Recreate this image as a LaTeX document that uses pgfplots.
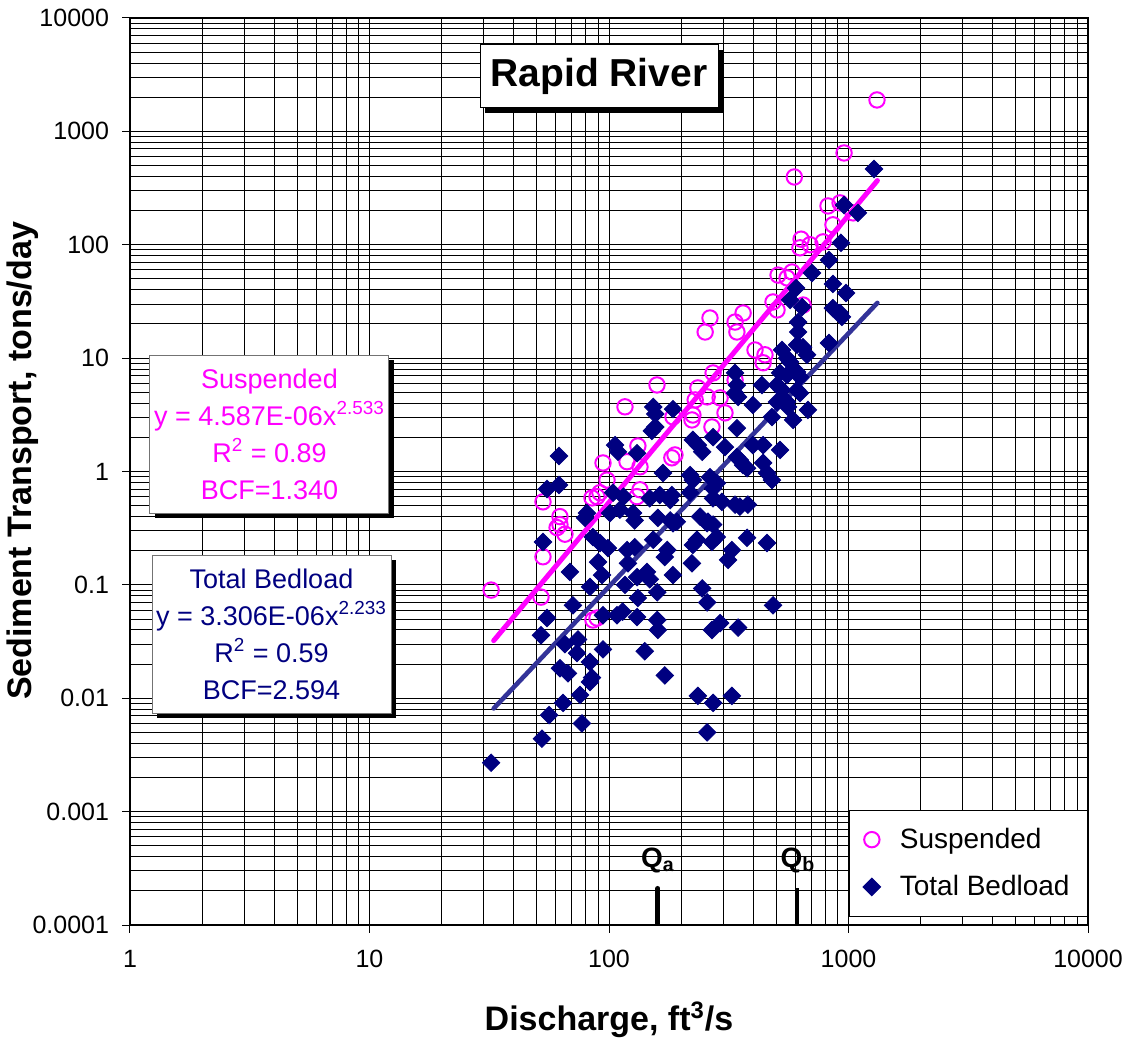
\documentclass[border=0pt]{standalone}
\usepackage{fontspec}
\setmainfont{Liberation Sans}
\usepackage{pgfplots}
\pgfplotsset{compat=1.18}
\usetikzlibrary{shadows}
\definecolor{susp}{RGB}{255,0,255}
\definecolor{bed}{RGB}{0,0,128}
\definecolor{bedline}{RGB}{51,51,153}
\begin{document}
\begin{tikzpicture}
\begin{axis}[
  scale only axis, width=479bp, height=453.5bp,
  xmode=log, ymode=log,
  xmin=1, xmax=10000, ymin=1e-4, ymax=1e4,
  xtick={1,10,100,1000,10000},
  xticklabels={1,10,100,1000,10000},
  ytick={1e-4,1e-3,1e-2,1e-1,1,10,100,1000,10000},
  yticklabels={0.0001,0.001,0.01,0.1,1,10,100,1000,10000},
  grid=both,
  major grid style={black, line width=0.5bp},
  minor grid style={black, line width=0.5bp},
  axis line style={black, line width=0.6bp},
  tick align=outside, tick pos=left,
  major tick length=4bp, minor tick length=0pt,
  tick style={black, line width=0.5bp},
  ticklabel style={font=\fontsize{12.5bp}{15bp}\selectfont},
  xticklabel style={yshift=-5bp},
  yticklabel style={xshift=-3bp},
  xlabel={\textbf{Discharge, ft\textsuperscript{3}/s}},
  ylabel={\textbf{Sediment Transport, tons/day}},
  label style={font=\fontsize{17bp}{20bp}\selectfont},
  x label style={at={(axis description cs:0.5,-0.1047)}, anchor=center},
  y label style={at={(axis description cs:-0.1117,0.5116)}, anchor=center, rotate=0},
  legend style={at={(axis description cs:1,0.0088)}, anchor=south east,
    draw=black, line width=0.5bp, fill=white,
    font=\fontsize{14bp}{16bp}\selectfont,
    inner xsep=7bp, inner ysep=7bp, row sep=8bp},
  legend cell align=left,
  legend image code/.code={\path[draw=none,fill=none] (0bp,0bp) -- (15bp,0bp); \draw[#1] plot[only marks] coordinates {(3bp,0bp)};},
]
\addplot[only marks, mark=o, mark size=3.85bp, color=susp, mark options={line width=1bp}] coordinates {
(32.2,0.090) (52.0,0.078) (53.0,0.177) (53.0,0.54) (62.4,0.40) (62.4,0.34)
(65.5,0.28) (60.7,0.32) (85.7,0.049) (89.1,0.051) (84.9,0.585) (89.1,0.60)
(91.6,0.65) (94.4,1.19) (98.1,0.84) (116.6,3.72) (118.9,1.22) (132,1.68)
(134.7,1.10) (130.9,0.60) (134.7,0.69) (158.6,5.8) (188.6,1.40) (183,1.32)
(185,3.03) (224,3.15) (222,2.85) (229,4.28) (235,5.46) (257,4.55)
(269,2.47) (291,4.46) (305,3.29) (272,7.4) (336,6.4) (252,17.0)
(264,22.6) (342,17.0) (336,20.8) (363,25) (407,11.8) (448,10.7)
(440,9.1) (484,31.3) (503,26.6) (646,29.4) (581,57.5) (508,54)
(554,51) (634,112) (627,94) (691,100) (783,106) (861,150)
(821,220) (922,234) (1045,191) (958,645) (594,396) (1315,1893)
};
\addlegendentry{Suspended}
\addplot[only marks, mark=square*, mark size=3.1bp, color=bed, mark options={rotate=45, fill=bed, draw=bed}] coordinates {
(61.8,1.37) (55.1,0.70) (61.8,0.76) (106,1.71) (109,1.49) (131,1.45)
(153,3.71) (156,3.22) (185,3.55) (156,2.47) (151,2.28) (168,0.97)
(104,0.65) (115,0.60) (148,0.58) (163,0.62) (183,0.62) (180,0.56)
(218,0.65) (80.9,0.43) (79.4,0.39) (101,0.43) (111,0.46) (126,0.43)
(128,0.37) (160,0.39) (180,0.37) (192,0.36) (85.7,0.264) (91.7,0.234)
(99.0,0.211) (119,0.203) (128,0.215) (153,0.25) (175,0.203) (171,0.176)
(53.0,0.239) (90.0,0.159) (68.7,0.130) (93.5,0.122) (83.3,0.096) (120,0.155)
(131,0.117) (144,0.13) (148,0.112) (116.6,0.100) (159,0.086) (132,0.0766)
(70.7,0.066) (55.1,0.051) (94.4,0.054) (108,0.054) (114,0.058) (131,0.052)
(159,0.049) (160,0.040) (52.0,0.036) (65.5,0.030) (74.2,0.033) (73.5,0.025)
(94.4,0.027) (141,0.026) (62.4,0.0184) (67.4,0.0166) (83.3,0.0209) (83.3,0.0139)
(84.9,0.0152) (171,0.0159) (75.7,0.0107) (64.3,0.0091) (56.2,0.0071) (77.1,0.0060)
(52.5,0.0044) (32.2,0.0027) (185,0.35) (257,0.35) (272,0.34) (233,0.25)
(224,0.225) (282,0.264) (269,0.239) (222,0.155) (377,0.26) (457,0.234)
(326,0.203) (314,0.166) (185,0.122) (245,0.093) (257,0.070) (484,0.066)
(269,0.040) (291,0.046) (346,0.042) (235,0.0105) (272,0.0091) (326,0.0105)
(257,0.0050) (616,17.0) (528,11.8) (610,13.1) (646,12.5) (671,10.7)
(829,13.6) (554,10.0) (570,9.24) (518,7.40) (554,7.10) (610,7.54)
(627,6.82) (336,7.40) (342,5.79) (336,4.92) (346,4.54) (435,5.79)
(503,5.79) (528,5.23) (610,5.23) (627,4.92) (503,4.10) (554,4.10)
(559,3.71) (399,3.86) (677,3.49) (479,3.02) (587,2.85) (342,2.41)
(224,1.90) (235,1.71) (245,1.49) (272,2.01) (305,1.64) (399,1.71)
(440,1.71) (518,1.55) (342,1.34) (352,1.26) (363,1.14) (377,1.07)
(440,1.19) (457,0.97) (479,0.84) (218,0.93) (224,0.84) (264,0.89)
(282,0.79) (272,0.71) (272,0.58) (296,0.54) (336,0.51) (352,0.49)
(380,0.51) (240,0.40) (259,0.36) (1278,466) (958,224) (1095,191)
(930,104) (829,73.4) (704,56.3) (861,45.1) (976,37.5) (604,41.5)
(861,27.6) (921,25.0) (939,23.1) (570,32.6) (640,28.2) (616,20.8)
};
\addlegendentry{Total Bedload}
\addplot[no marks, color=susp, line width=2.5bp, line cap=round, forget plot] coordinates {(33,0.0322) (1320,368)};
\addplot[no marks, color=bedline, line width=2.3bp, line cap=round, forget plot] coordinates {(33,0.00813) (1320,30.7)};
% Qa / Qb markers
\draw[black, line width=2.5bp, line cap=round] (axis cs:160,1e-4) -- (axis cs:160,2.1e-4);
\draw[black, line width=1.5bp] (axis cs:615,1e-4) -- (axis cs:615,2.1e-4);
\node[font=\fontsize{14bp}{16bp}\selectfont\bfseries, anchor=south] at (axis cs:160,2.5e-4) {Q\textsubscript{a}};
\node[font=\fontsize{14bp}{16bp}\selectfont\bfseries, anchor=south] at (axis cs:615,2.5e-4) {Q\textsubscript{b}};
% title
\node[draw=black, line width=0.5bp, fill=white, drop shadow={shadow xshift=2.5bp, shadow yshift=-2.5bp, fill=black, opacity=1},
  minimum width=119bp, minimum height=31.5bp, inner sep=0pt,
  font=\fontsize{19.5bp}{23bp}\selectfont\bfseries] at (axis description cs:0.4896,0.9355) {Rapid River};
% equation boxes
\node[draw=black!55, line width=0.5bp, fill=white, drop shadow={shadow xshift=2.5bp, shadow yshift=-2.5bp, fill=black, opacity=1},
  minimum width=119.5bp, minimum height=79bp, inner sep=0pt, align=center, text=susp,
  font=\fontsize{13.5bp}{18.5bp}\selectfont] at (axis description cs:0.1456,0.5413)
  {Suspended\\y = 4.587E-06x\textsuperscript{2.533}\\R\textsuperscript{2} = 0.89\\BCF=1.340};
\node[draw=black!55, line width=0.5bp, fill=white, drop shadow={shadow xshift=2.5bp, shadow yshift=-2.5bp, fill=black, opacity=1},
  minimum width=119.5bp, minimum height=79bp, inner sep=0pt, align=center, text=bed,
  font=\fontsize{13.5bp}{18.5bp}\selectfont] at (axis description cs:0.1477,0.3208)
  {Total Bedload\\y = 3.306E-06x\textsuperscript{2.233}\\R\textsuperscript{2} = 0.59\\BCF=2.594};
\end{axis}
\pgfresetboundingbox
\path[use as bounding box] (-65bp,-56.5bp) rectangle (499.5bp,462.5bp);
\end{tikzpicture}
\end{document}
